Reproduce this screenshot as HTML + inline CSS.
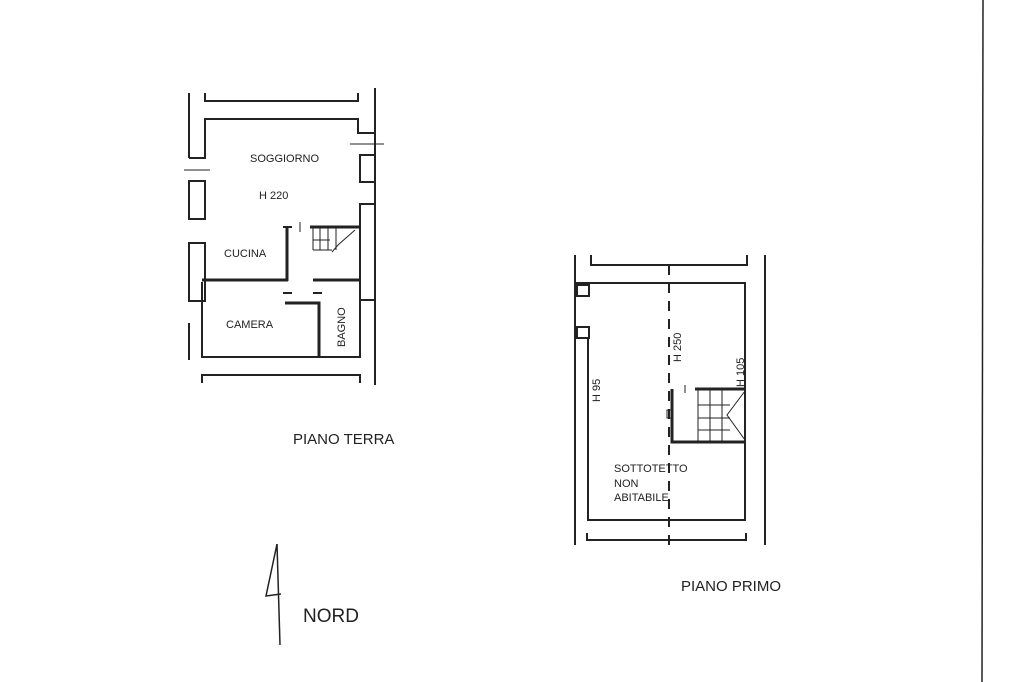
<!DOCTYPE html>
<html><head><meta charset="utf-8"><style>
html,body{margin:0;padding:0;background:#fff;}
svg{display:block}
text{font-family:"Liberation Sans",sans-serif;fill:#222;}
</style></head><body>
<svg width="1024" height="682" viewBox="0 0 1024 682" xmlns="http://www.w3.org/2000/svg">
<g stroke="#222" stroke-width="2" fill="none">
<!-- ground floor -->
<polyline points="205,93 205,101 358,101 358,93"/>
<line x1="189" y1="93" x2="189" y2="158"/>
<polyline points="189,158 205,158 205,119 358,119 358,133 375,133"/>
<line x1="375" y1="88" x2="375" y2="385"/>
<rect x="189" y="181" width="16" height="38"/>
<rect x="189" y="243" width="16" height="58"/>
<line x1="189" y1="323" x2="189" y2="360"/>
<polyline points="202,282 202,357 360,357 360,300"/>
<rect x="360" y="155" width="15" height="27"/>
<rect x="360" y="204" width="15" height="96"/>
<polyline points="202,383 202,375 360,375 360,383"/>
<g stroke-width="3">
<line x1="202" y1="280" x2="288" y2="280"/>
<line x1="287" y1="227" x2="287" y2="281"/>
<line x1="313" y1="280" x2="360" y2="280"/>
<line x1="310" y1="227" x2="360" y2="227"/>
<polyline points="285,303 319,303 319,357"/>
</g>
<line x1="283" y1="227" x2="292" y2="227"/>
<line x1="283" y1="293" x2="292" y2="293"/>
<line x1="313" y1="293" x2="322" y2="293"/>
<line x1="300" y1="222" x2="300" y2="232" stroke-width="1"/>
<g stroke-width="1">
<line x1="313" y1="227" x2="313" y2="250"/>
<line x1="313" y1="240" x2="330" y2="240"/>
<line x1="313" y1="250" x2="332" y2="250"/>
<line x1="320" y1="227" x2="320" y2="250"/>
<line x1="328" y1="227" x2="328" y2="250"/>
<line x1="336" y1="227" x2="336" y2="250"/>
<polyline points="355,230 338,245 332,252"/>
<line x1="184" y1="170" x2="210" y2="170"/>
<line x1="350" y1="144" x2="384" y2="144"/>
</g>
<!-- first floor -->
<polyline points="591,255 591,265 747,265 747,255"/>
<line x1="575" y1="255" x2="575" y2="545"/>
<line x1="765" y1="255" x2="765" y2="545"/>
<polyline points="575,283 745,283 745,520 588,520 588,338 575,338"/>
<rect x="577" y="285" width="12" height="11"/>
<rect x="577" y="327" width="12" height="11"/>
<polyline points="587,533 587,540 746,540 746,533"/>
<line x1="669" y1="265" x2="669" y2="545" stroke-dasharray="10,8"/>
<g stroke-width="3">
<polyline points="672,389 672,442 745,442"/>
<line x1="695" y1="389" x2="745" y2="389"/>
</g>
<g stroke-width="1">
<line x1="698" y1="389" x2="698" y2="442"/>
<line x1="698" y1="405" x2="730" y2="405"/>
<line x1="698" y1="418" x2="730" y2="418"/>
<line x1="698" y1="430" x2="730" y2="430"/>
<line x1="710" y1="389" x2="710" y2="442"/>
<line x1="722" y1="389" x2="722" y2="442"/>
<polyline points="745,391 727,415 745,440"/>
<rect x="667" y="410" width="5" height="8"/>
<line x1="685" y1="385" x2="685" y2="393"/>
</g>
<!-- north arrow -->
<line x1="277" y1="544" x2="280" y2="645" stroke-width="1.5"/>
<polyline points="277,544 266,596 281,594" stroke-width="1.5"/>
<!-- right edge -->
<line x1="983" y1="0" x2="982" y2="682" stroke-width="1.5"/>
</g>
<text x="250" y="162" font-size="11">SOGGIORNO</text>
<text x="259" y="199" font-size="11">H 220</text>
<text x="224" y="257" font-size="11">CUCINA</text>
<text x="226" y="328" font-size="11">CAMERA</text>
<text transform="translate(345,347) rotate(-90)" font-size="11">BAGNO</text>
<text transform="translate(600,402) rotate(-90)" font-size="11">H 95</text>
<text transform="translate(681,362) rotate(-90)" font-size="11">H 250</text>
<text transform="translate(744,387) rotate(-90)" font-size="11">H 105</text>
<text x="614" y="472" font-size="11">SOTTOTETTO</text>
<text x="614" y="487" font-size="11">NON</text>
<text x="614" y="501" font-size="11">ABITABILE</text>
<text x="293" y="444" font-size="15">PIANO TERRA</text>
<text x="681" y="591" font-size="15">PIANO PRIMO</text>
<text x="303" y="622" font-size="19">NORD</text>
</svg>
</body></html>
